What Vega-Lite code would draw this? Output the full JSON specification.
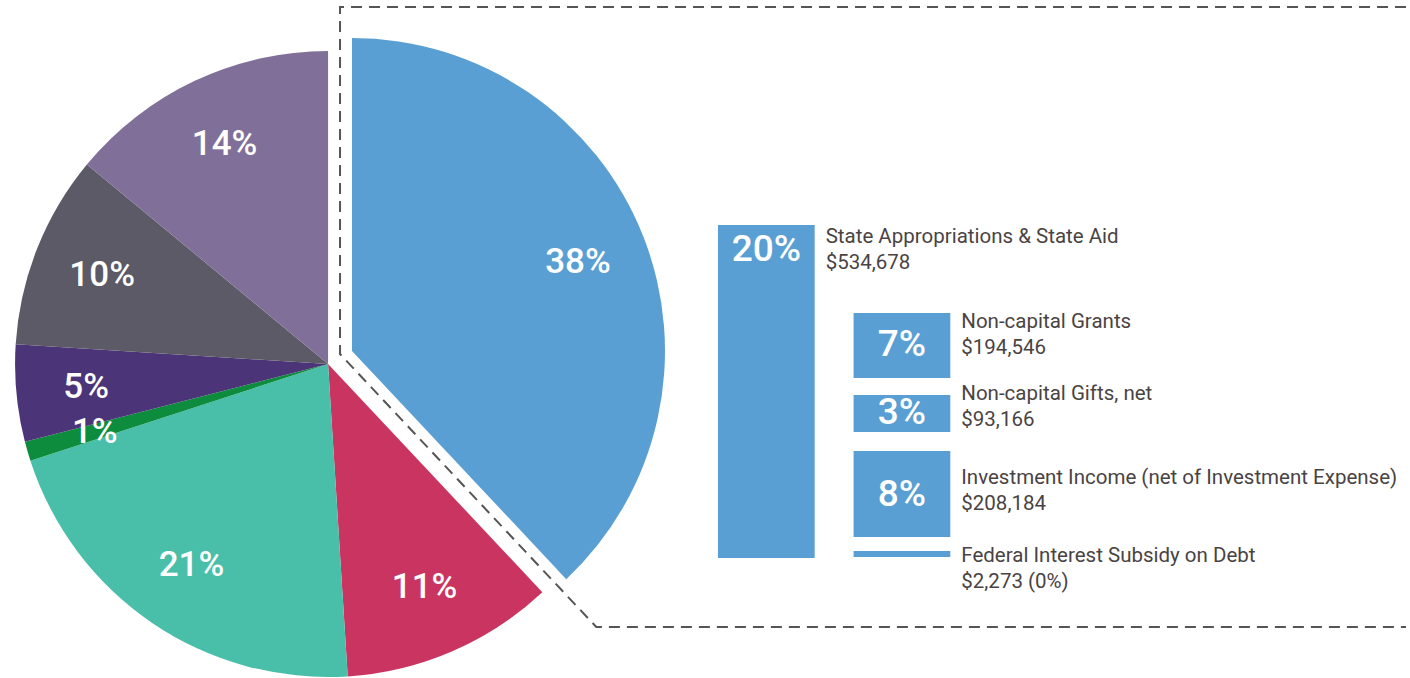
{
  "$schema": "https://vega.github.io/schema/vega-lite/v6.json",
  "width": 1410,
  "height": 678,
  "autosize": {"type": "fit", "contains": "padding"},
  "padding": 0,
  "background": "white",
  "config": {"view": {"stroke": null}},
  "datasets": {
    "pie": [
      {"segment": "A", "value": 38, "rank": 1, "label": "38%"},
      {"segment": "B", "value": 11, "rank": 2, "label": "11%"},
      {"segment": "C", "value": 21, "rank": 3, "label": "21%"},
      {"segment": "D", "value": 1, "rank": 4, "label": "1%"},
      {"segment": "E", "value": 5, "rank": 5, "label": "5%"},
      {"segment": "F", "value": 10, "rank": 6, "label": "10%"},
      {"segment": "G", "value": 14, "rank": 7, "label": "14%"}
    ],
    "frame": [
      {"step": 1, "px": 1410, "py": 7},
      {"step": 2, "px": 341, "py": 7},
      {"step": 3, "px": 341, "py": 354},
      {"step": 4, "px": 598, "py": 627},
      {"step": 5, "px": 1410, "py": 627}
    ],
    "bars": [
      {"pct": "20%", "name": "State Appropriations & State Aid", "amount": "$534,678", "left": 720, "right": 817, "top": 225, "bottom": 558, "pctY": 250, "nameY": 237},
      {"pct": "7%", "name": "Non-capital Grants", "amount": "$194,546", "left": 856, "right": 953, "top": 313, "bottom": 378, "pctY": 345, "nameY": 322},
      {"pct": "3%", "name": "Non-capital Gifts, net", "amount": "$93,166", "left": 856, "right": 953, "top": 395, "bottom": 432, "pctY": 413, "nameY": 394},
      {"pct": "8%", "name": "Investment Income (net of Investment Expense)", "amount": "$208,184", "left": 856, "right": 953, "top": 451, "bottom": 537, "pctY": 495, "nameY": 478},
      {"pct": "", "name": "Federal Interest Subsidy on Debt", "amount": "$2,273 (0%)", "left": 856, "right": 953, "top": 551, "bottom": 557, "pctY": 554, "nameY": 556}
    ]
  },
  "layer": [
    {
      "data": {"name": "frame"},
      "mark": {"type": "line", "stroke": "#555555", "strokeWidth": 2, "strokeDash": [11, 7]},
      "encoding": {
        "x": {"field": "px", "type": "quantitative", "scale": {"domain": [0, 1410], "nice": false, "zero": false}, "axis": null},
        "y": {"field": "py", "type": "quantitative", "scale": {"domain": [0, 678], "nice": false, "zero": false, "reverse": true}, "axis": null},
        "order": {"field": "step", "type": "quantitative"}
      }
    },
    {
      "data": {"name": "pie"},
      "transform": [
        {"stack": "value", "groupby": [], "sort": [{"field": "rank", "order": "ascending"}], "as": ["t0", "t1"]},
        {"filter": "datum.rank != 1"}
      ],
      "mark": {"type": "arc", "outerRadius": 313},
      "encoding": {
        "x": {"datum": 329, "type": "quantitative"},
        "y": {"datum": 364, "type": "quantitative"},
        "theta": {"field": "t0", "type": "quantitative", "stack": null, "scale": {"domain": [0, 100], "range": [0, 6.283185307179586]}},
        "theta2": {"field": "t1"},
        "color": {"field": "segment", "type": "nominal", "legend": null,
          "scale": {"domain": ["A", "B", "C", "D", "E", "F", "G"], "range": ["#5a9fd3", "#c93461", "#49bfaa", "#0e8c3d", "#4b3477", "#5c5a66", "#807099"]}}
      }
    },
    {
      "data": {"name": "pie"},
      "transform": [
        {"stack": "value", "groupby": [], "sort": [{"field": "rank", "order": "ascending"}], "as": ["t0", "t1"]},
        {"filter": "datum.rank == 1"}
      ],
      "mark": {"type": "arc", "outerRadius": 313},
      "encoding": {
        "x": {"datum": 353, "type": "quantitative"},
        "y": {"datum": 351, "type": "quantitative"},
        "theta": {"field": "t0", "type": "quantitative", "stack": null},
        "theta2": {"field": "t1"},
        "color": {"field": "segment", "type": "nominal", "legend": null}
      }
    },
    {
      "data": {"name": "pie"},
      "transform": [
        {"stack": "value", "groupby": [], "sort": [{"field": "rank", "order": "ascending"}], "as": ["t0", "t1"]},
        {"calculate": "(datum.t0 + datum.t1) / 2", "as": "mid"},
        {"filter": "datum.rank != 1"}
      ],
      "mark": {"type": "text", "radius": 243, "fontSize": 35, "fontWeight": 500, "font": "Roboto", "color": "white", "align": "center", "baseline": "middle"},
      "encoding": {
        "x": {"datum": 329, "type": "quantitative"},
        "y": {"datum": 364, "type": "quantitative"},
        "theta": {"field": "mid", "type": "quantitative", "stack": null},
        "text": {"field": "label"}
      }
    },
    {
      "data": {"name": "pie"},
      "transform": [
        {"stack": "value", "groupby": [], "sort": [{"field": "rank", "order": "ascending"}], "as": ["t0", "t1"]},
        {"calculate": "(datum.t0 + datum.t1) / 2", "as": "mid"},
        {"filter": "datum.rank == 1"}
      ],
      "mark": {"type": "text", "radius": 243, "fontSize": 35, "fontWeight": 500, "font": "Roboto", "color": "white", "align": "center", "baseline": "middle"},
      "encoding": {
        "x": {"datum": 353, "type": "quantitative"},
        "y": {"datum": 351, "type": "quantitative"},
        "theta": {"field": "mid", "type": "quantitative", "stack": null},
        "text": {"field": "label"}
      }
    },
    {
      "data": {"name": "bars"},
      "mark": {"type": "rect", "color": "#5a9fd3"},
      "encoding": {
        "x": {"field": "left", "type": "quantitative"},
        "x2": {"field": "right"},
        "y": {"field": "top", "type": "quantitative"},
        "y2": {"field": "bottom"}
      }
    },
    {
      "data": {"name": "bars"},
      "transform": [{"calculate": "(datum.left + datum.right) / 2", "as": "cx"}],
      "mark": {"type": "text", "fontSize": 37, "fontWeight": 500, "font": "Roboto", "color": "white", "align": "center", "baseline": "middle"},
      "encoding": {
        "x": {"field": "cx", "type": "quantitative"},
        "y": {"field": "pctY", "type": "quantitative"},
        "text": {"field": "pct"}
      }
    },
    {
      "data": {"name": "bars"},
      "mark": {"type": "text", "fontSize": 20.5, "font": "Roboto", "color": "#4a4344", "align": "left", "baseline": "middle", "dx": 11},
      "encoding": {
        "x": {"field": "right", "type": "quantitative"},
        "y": {"field": "nameY", "type": "quantitative"},
        "text": {"field": "name"}
      }
    },
    {
      "data": {"name": "bars"},
      "mark": {"type": "text", "fontSize": 20.5, "font": "Roboto", "color": "#4a4344", "align": "left", "baseline": "middle", "dx": 11, "dy": 26},
      "encoding": {
        "x": {"field": "right", "type": "quantitative"},
        "y": {"field": "nameY", "type": "quantitative"},
        "text": {"field": "amount"}
      }
    }
  ]
}
